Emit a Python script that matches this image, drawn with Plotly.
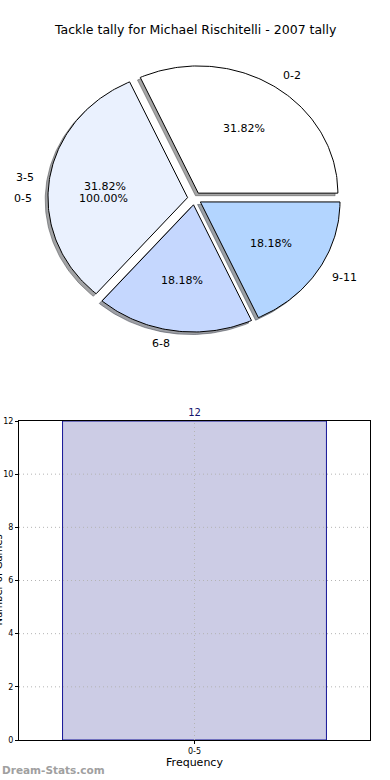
import math
import plotly.graph_objects as go

# ---------------- data ----------------
title_text = "Tackle tally for Michael Rischitelli - 2007 tally"
pie_labels = ["0-2", "3-5", "6-8", "9-11"]
pie_values = [7, 7, 4, 4]
pie_colors = ["#ffffff", "#eaf1fe", "#c5d7fe", "#b3d5ff"]
total_labels = ["0-5"]
total_values = [12]
bar_categories = ["0-5"]
bar_values = [12]
y_ticks = [0, 2, 4, 6, 8, 10, 12]

# ---------------- layout helpers ----------------
W, H = 390, 780
FONT = "DejaVu Sans"
EXPLODE = 0.05
CX, CY, SX, SY = 194.5, 198.5, 139.6, 127.2   # pie centre / scale in px
PIE_TOP, PIE_BOT = 30, 370
AX_L, AX_R, AX_T, AX_B = 19, 370, 421, 740
GRID = dict(color="#b4b4b4", width=1, dash="1px,3px")


def py(y):
    return 1 - y / H


def wedges(values, start=0.0):
    total = float(sum(values))
    out = []
    acc = 0.0
    for v in values:
        t1 = start + 360.0 * acc / total
        acc += v
        t2 = start + 360.0 * acc / total
        mid = math.radians((t1 + t2) / 2)
        cx, cy = EXPLODE * math.cos(mid), EXPLODE * math.sin(mid)
        out.append((t1, t2, mid, cx, cy, v / total))
    return out


def wedge_poly(t1, t2, cx, cy, dx=0.0, dy=0.0):
    n = max(8, int((t2 - t1) / 1.0))
    xs, ys = [cx + dx], [cy + dy]
    for i in range(n + 1):
        a = math.radians(t1 + (t2 - t1) * i / n)
        xs.append(cx + dx + math.cos(a))
        ys.append(cy + dy + math.sin(a))
    xs.append(cx + dx)
    ys.append(cy + dy)
    return xs, ys


def darker(hexcol):
    r, g, b = (int(hexcol[i:i + 2], 16) for i in (1, 3, 5))
    return f"rgba({int(r*0.3)},{int(g*0.3)},{int(b*0.3)},0.5)"


fig = go.Figure()
ws = wedges(pie_values)

# shadows first (below all wedges)
for (t1, t2, mid, cx, cy, frac), col in zip(ws, pie_colors):
    xs, ys = wedge_poly(t1, t2, cx, cy, -0.02, -0.02)
    fig.add_trace(go.Scatter(x=xs, y=ys, mode="lines", fill="toself",
                             fillcolor=darker(col), line=dict(color=darker(col), width=1),
                             hoverinfo="skip", showlegend=False, xaxis="x", yaxis="y"))
for (t1, t2, mid, cx, cy, frac), col, lab in zip(ws, pie_colors, pie_labels):
    xs, ys = wedge_poly(t1, t2, cx, cy)
    fig.add_trace(go.Scatter(x=xs, y=ys, mode="lines", fill="toself",
                             fillcolor=col, line=dict(color="black", width=1),
                             name=lab, showlegend=False, xaxis="x", yaxis="y"))

annotations = []


def add_pie_texts(wlist, labels):
    for (t1, t2, mid, cx, cy, frac), lab in zip(wlist, labels):
        lx = cx + 1.1 * math.cos(mid)
        ly = cy + 1.1 * math.sin(mid)
        annotations.append(dict(x=lx, y=ly, xref="x", yref="y", text=lab, showarrow=False,
                                xanchor="left" if lx > 0 else "right", yanchor="middle",
                                font=dict(family=FONT, size=11, color="black")))
        px_ = cx + 0.6 * math.cos(mid)
        py_ = cy + 0.6 * math.sin(mid)
        annotations.append(dict(x=px_, y=py_, xref="x", yref="y", text=f"{frac*100:.2f}%",
                                showarrow=False, xanchor="center", yanchor="middle",
                                font=dict(family=FONT, size=11, color="black")))


add_pie_texts(ws, pie_labels)
add_pie_texts(wedges(total_values, start=0.0), total_labels)

# ---------------- bar chart ----------------
fig.add_trace(go.Bar(x=bar_categories, y=bar_values, width=0.8,
                     marker=dict(color="rgb(204,204,229)", line=dict(color="rgb(20,20,150)", width=1)),
                     text=[str(v) for v in bar_values], textposition="outside",
                     textfont=dict(family=FONT, size=10, color="rgb(20,20,110)"),
                     cliponaxis=False, showlegend=False, xaxis="x2", yaxis="y2"))

shapes = []
for t in y_ticks[1:-1]:
    shapes.append(dict(type="line", xref="x2 domain", yref="y2", x0=0, x1=1, y0=t, y1=t,
                       line=GRID, layer="above"))
shapes.append(dict(type="line", xref="x2", yref="y2 domain", x0=bar_categories[0], x1=bar_categories[0],
                   y0=0, y1=1, line=GRID, layer="above"))

annotations.append(dict(x=0.5, y=py(30), xref="paper", yref="paper", text=title_text, showarrow=False,
                        xanchor="center", yanchor="middle", font=dict(family=FONT, size=12.5, color="black")))
annotations.append(dict(x=-2.5 / W, y=py(580), xref="paper", yref="paper", text="Number of Games",
                        showarrow=False, textangle=-90, xanchor="center", yanchor="middle",
                        font=dict(family=FONT, size=10, color="black")))
annotations.append(dict(x=0, y=py(770), xref="paper", yref="paper", text="<b>Dream-Stats.com</b>",
                        showarrow=False, xanchor="left", yanchor="middle",
                        font=dict(family=FONT, size=10.5, color="#a0a0a0")))

fig.update_layout(
    width=W, height=H, autosize=False,
    margin=dict(l=0, r=0, t=0, b=0, autoexpand=False),
    paper_bgcolor="white", plot_bgcolor="white",
    showlegend=False,
    xaxis=dict(domain=[0, 1], range=[(0 - CX) / SX, (W - CX) / SX], visible=False, fixedrange=True,
               automargin=False),
    yaxis=dict(domain=[py(PIE_BOT), py(PIE_TOP)], range=[(CY - PIE_BOT) / SY, (CY - PIE_TOP) / SY],
               visible=False, fixedrange=True, automargin=False),
    xaxis2=dict(domain=[AX_L / W, AX_R / W], anchor="y2", range=[-0.532, 0.532],
                showline=True, mirror=True, linecolor="black", linewidth=1,
                ticks="outside", ticklen=3, tickcolor="black", showgrid=False, automargin=False,
                tickfont=dict(family=FONT, size=8, color="black"),
                title=dict(text="Frequency", font=dict(family=FONT, size=11, color="black"), standoff=1)),
    yaxis2=dict(domain=[py(AX_B), py(AX_T)], anchor="x2", range=[0, 12], tickvals=y_ticks,
                showline=True, mirror=True, linecolor="black", linewidth=1, automargin=False,
                ticks="outside", ticklen=3, tickcolor="black", showgrid=False, zeroline=False,
                tickfont=dict(family=FONT, size=8, color="black")),
    annotations=annotations,
    shapes=shapes,
)

fig.write_html("out.html", config={"displayModeBar": False},
               post_script="document.body.style.margin='0';")
